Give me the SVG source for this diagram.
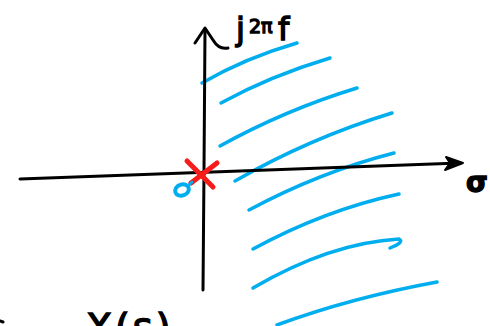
<svg xmlns="http://www.w3.org/2000/svg" width="490" height="326" viewBox="0 0 490 326">
<style>
.ax{fill:none;stroke:#000;stroke-width:3;stroke-linecap:round;stroke-linejoin:round}
.hatch{fill:none;stroke:#00aeef;stroke-width:3.5;stroke-linecap:round}
.lbl{font-family:"DejaVu Sans","Liberation Sans",sans-serif;fill:#000;stroke:#000;stroke-width:1.4}
</style>
<rect width="490" height="326" fill="#fff"/>
<g id="hatching">
<path class="hatch" d="M202,83 Q245,58 297,43"/>
<path class="hatch" d="M221,103 Q270,76 330,58"/>
<path class="hatch" d="M220,146 Q285,110 357,88"/>
<path class="hatch" d="M235,181 Q310,138 392,113"/>
<path class="hatch" d="M249,210 Q320,172 394,153"/>
<path class="hatch" d="M253,249 Q325,210 399,194"/>
<path class="hatch" d="M253,288 Q330,243 399,239 Q405,242 390,248"/>
<path class="hatch" d="M277,325 Q350,298 437,282"/>
</g>
<g id="axes">
<path class="ax" d="M203,290 L204,170 L205,30"/>
<path class="ax" d="M195,43 L205,28 L213,40 Q219,50 228,48"/>
<path class="ax" d="M20,179 L460,163"/>
<path d="M446,157 L463,163 L445,170 L450,163 Z" fill="#000" stroke="#000" stroke-width="2" stroke-linejoin="round"/>
<path class="ax" d="M0,321 L3,322" stroke-width="2"/>
</g>
<g id="origin">
<path d="M187,161 L213,187 M217,163 L191,183" fill="none" stroke="#f51c1c" stroke-width="5" stroke-linecap="round"/>
<ellipse cx="182" cy="190" rx="7" ry="5.5" fill="none" stroke="#00aeef" stroke-width="4" transform="rotate(-20 182 190)"/>
<path d="M188,186 L192,182" fill="none" stroke="#00aeef" stroke-width="3" stroke-linecap="round"/>
</g>
<g id="labels">
<text class="lbl" font-size="32"><tspan x="236" y="40">j</tspan><tspan x="249" y="33" font-size="19">2π</tspan><tspan x="278" y="40">f</tspan></text>
<text class="lbl" x="466" y="192" font-size="28" font-weight="bold">σ</text>
<text class="lbl" x="86" y="340" font-size="38" letter-spacing="3">X(s)</text>
</g>
</svg>
